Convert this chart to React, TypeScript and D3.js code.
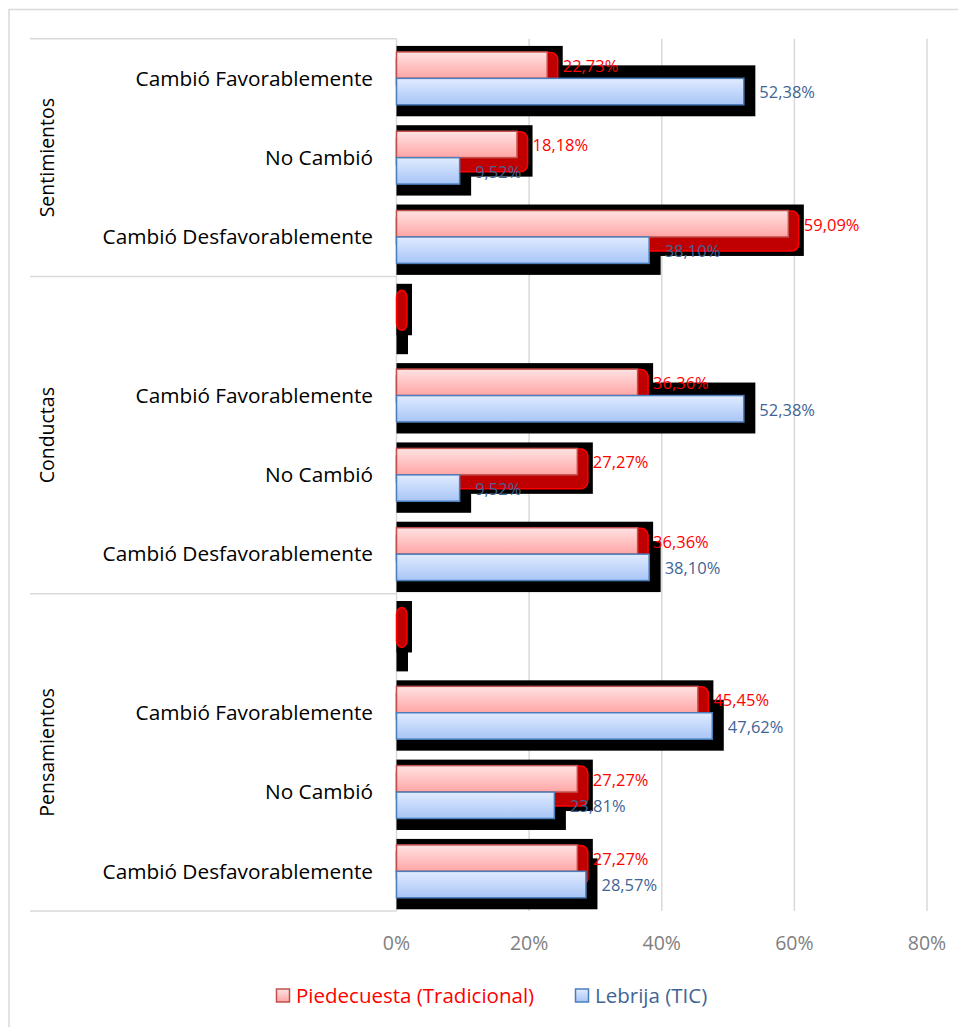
import React from "react";
import * as d3 from "d3";

// Grouped categories (top to bottom) and the two series, in percent
const groups = ["Sentimientos", "Conductas", "Pensamientos"];
const groupCategories: string[][] = [
  ["Cambió Favorablemente", "No Cambió", "Cambió Desfavorablemente"],
  ["", "Cambió Favorablemente", "No Cambió", "Cambió Desfavorablemente"],
  ["", "Cambió Favorablemente", "No Cambió", "Cambió Desfavorablemente"],
];
const piedecuesta: number[][] = [
  [22.73, 18.18, 59.09],
  [0, 36.36, 27.27, 36.36],
  [0, 45.45, 27.27, 27.27],
];
const lebrija: number[][] = [
  [52.38, 9.52, 38.1],
  [0, 52.38, 9.52, 38.1],
  [0, 47.62, 23.81, 28.57],
];
const xTicks = [0, 20, 40, 60, 80];
const seriesNames = ["Piedecuesta (Tradicional)", "Lebrija (TIC)"];

const W = 958;
const H = 1027;
const FONT = "'Open Sans', 'DejaVu Sans', sans-serif";

type Row = {
  key: string;
  group: number;
  label: string;
  red: number;
  blue: number;
};

const rows: Row[] = [];
groups.forEach((g, gi) => {
  groupCategories[gi].forEach((c, ci) => {
    rows.push({
      key: `${gi}-${ci}`,
      group: gi,
      label: c,
      red: piedecuesta[gi][ci],
      blue: lebrija[gi][ci],
    });
  });
});

const plotTop = 38.7;
const plotBottom = 911;
const axisX = 396.5;
const plotRight = 927;

const x = d3.scaleLinear().domain([0, 80]).range([axisX, plotRight]);
const y = d3
  .scaleBand<string>()
  .domain(rows.map((r) => r.key))
  .range([plotTop, plotBottom])
  .paddingInner(0)
  .paddingOuter(0);
const inner = d3
  .scaleBand<string>()
  .domain(["red", "blue"])
  .range([0, y.bandwidth()])
  .paddingInner(0)
  .paddingOuter(0.5);

const fmt = (v: number) => v.toFixed(2).replace(".", ",") + "%";

// boundaries between groups on the category axis
const groupEdges: number[] = [plotTop];
{
  let idx = 0;
  groupCategories.forEach((cats) => {
    idx += cats.length;
    groupEdges.push(plotTop + idx * y.step());
  });
}

export default function App() {
  const bh = inner.bandwidth();
  return (
    <svg
      width={W}
      height={H}
      style={{ position: "absolute", left: 0, top: 0, background: "#fff" }}
      fontFamily={FONT}
    >
      <defs>
        <linearGradient id="gRed" x1="0" y1="0" x2="0" y2="1">
          <stop offset="0" stopColor="#FFE3E3" />
          <stop offset="1" stopColor="#FFA5A5" />
        </linearGradient>
        <linearGradient id="gBlue" x1="0" y1="0" x2="0" y2="1">
          <stop offset="0" stopColor="#E1EBFF" />
          <stop offset="1" stopColor="#A7C5F6" />
        </linearGradient>
      </defs>

      {/* chart frame */}
      <rect x={9} y={9.5} width={W + 20} height={H + 20} fill="#fff" stroke="#D9D9D9" strokeWidth={1.5} />

      {/* vertical gridlines */}
      {xTicks.slice(1).map((t) => (
        <line key={t} x1={x(t)} x2={x(t)} y1={plotTop} y2={plotBottom} stroke="#D9D9D9" strokeWidth={1.5} />
      ))}

      {/* category axis separators */}
      {groupEdges.map((e, i) => (
        <line key={i} x1={30} x2={axisX} y1={e} y2={e} stroke="#D9D9D9" strokeWidth={1.5} />
      ))}
      <line x1={axisX} x2={axisX} y1={plotTop} y2={plotBottom} stroke="#D9D9D9" strokeWidth={1.5} />

      {/* bars with shadow and extrusion */}
      {rows.map((r) => {
        const top = y(r.key)!;
        const ry = top + inner("red")!;
        const by = top + inner("blue")!;
        const rx = x(r.red);
        const bx = x(r.blue);
        return (
          <g key={r.key}>
            <rect x={axisX} y={by - 13} width={bx - axisX + 11.5} height={bh + 24.5} fill="#000" />
            <rect x={axisX} y={ry - 6} width={rx - axisX + 15.5} height={bh + 25} fill="#000" />
            <rect
              x={axisX}
              y={ry + 0.5}
              width={rx - axisX + 10.5}
              height={bh + 13.5}
              rx={7}
              ry={7}
              fill="#C00000"
              stroke="#FF0000"
              strokeWidth={1.5}
            />
            {r.red > 0 && (
              <rect x={axisX} y={ry} width={rx - axisX} height={bh} fill="url(#gRed)" stroke="#C0504D" strokeWidth={1.5} />
            )}
            {r.blue > 0 && (
              <rect x={axisX} y={by} width={bx - axisX} height={bh} fill="url(#gBlue)" stroke="#4A7EBB" strokeWidth={1.5} />
            )}
          </g>
        );
      })}

      {/* value labels */}
      {rows.map((r) => {
        const top = y(r.key)!;
        const ry = top + inner("red")! + bh / 2;
        const by = top + inner("blue")! + bh / 2;
        return (
          <g key={"l" + r.key} fontSize={16.5}>
            {r.red > 0 && (
              <text x={x(r.red) + 15.5} y={ry + 1} dy="0.35em" fill="#FF0000">
                {fmt(r.red)}
              </text>
            )}
            {r.blue > 0 && (
              <text x={x(r.blue) + 15.5} y={by + 1} dy="0.35em" fill="#3F6596">
                {fmt(r.blue)}
              </text>
            )}
          </g>
        );
      })}

      {/* category labels */}
      {rows.map((r) => (
        <text
          key={"c" + r.key}
          x={373}
          y={y(r.key)! + y.bandwidth() / 2}
          dy="0.35em"
          textAnchor="end"
          fontSize={20.8}
          fill="#000"
        >
          {r.label}
        </text>
      ))}

      {/* group labels */}
      {groups.map((g, i) => {
        const cy = (groupEdges[i] + groupEdges[i + 1]) / 2;
        return (
          <text
            key={g}
            transform={`translate(47,${cy}) rotate(-90)`}
            textAnchor="middle"
            dy="0.35em"
            fontSize={19.5}
            fill="#000"
          >
            {g}
          </text>
        );
      })}

      {/* value axis ticks */}
      {xTicks.map((t) => (
        <text key={"t" + t} x={x(t)} y={943} dy="0.35em" textAnchor="middle" fontSize={19.5} fill="#808080">
          {t}%
        </text>
      ))}

      {/* legend */}
      <g fontSize={20.5}>
        <rect x={276.5} y={989} width={13} height={13} fill="url(#gRed)" stroke="#C0504D" strokeWidth={1.5} />
        <text x={296} y={995.5} dy="0.35em" fill="#FF0000">
          {seriesNames[0]}
        </text>
        <rect x={575.5} y={989} width={13} height={13} fill="url(#gBlue)" stroke="#4A7EBB" strokeWidth={1.5} />
        <text x={595} y={995.5} dy="0.35em" fill="#3F6596">
          {seriesNames[1]}
        </text>
      </g>
    </svg>
  );
}
